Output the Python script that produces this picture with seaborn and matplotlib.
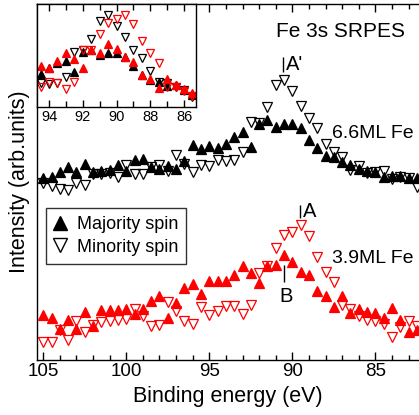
import matplotlib
matplotlib.use('Agg')
import matplotlib.pyplot as plt
import seaborn as sns
from matplotlib.lines import Line2D
from matplotlib.ticker import MultipleLocator

sns.set_theme(style='ticks')
plt.rcParams['font.family'] = ['Liberation Sans', 'DejaVu Sans']
plt.rcParams['text.color'] = 'black'
plt.rcParams['axes.labelcolor'] = 'black'
plt.rcParams['xtick.color'] = 'black'
plt.rcParams['ytick.color'] = 'black'

# ---------------- main panel data (binding energy, eV) ----------------
energy = [105.0, 104.5, 104.0, 103.5, 103.0, 102.5, 102.0, 101.5, 101.0, 100.5,
          100.0, 99.5, 99.0, 98.5, 98.0, 97.5, 97.0, 96.5, 96.0, 95.5,
          95.0, 94.5, 94.0, 93.5, 93.0, 92.5, 92.0, 91.5, 91.0, 90.5,
          90.0, 89.5, 89.0, 88.5, 88.0, 87.5, 87.0, 86.5, 86.0, 85.5,
          85.0, 84.5, 84.0, 83.5, 83.0, 82.5]

maj_66 = [221.7, 222.7, 228.3, 233.0, 227.7, 235.5, 227.5, 228.5, 230.0, 235.0,
          229.0, 239.5, 240.5, 233.3, 231.0, 234.0, 230.7, 239.0, 254.5, 251.0,
          254.0, 252.0, 256.0, 263.0, 267.5, 253.3, 276.0, 280.0, 273.0, 276.0,
          276.0, 272.0, 260.0, 252.0, 244.0, 243.0, 238.0, 235.0, 231.0, 229.0,
          228.0, 223.0, 224.0, 224.0, 222.0, 222.0]
min_66 = [217.0, 214.0, 211.0, 210.0, 217.0, 215.0, 226.0, 225.5, 226.5, 223.3,
          235.0, 226.0, 225.5, 232.5, 235.0, 229.0, 245.0, 236.0, 227.5, 235.0,
          233.5, 240.0, 239.3, 239.5, 248.3, 278.3, 276.5, 293.3, 315.0, 320.0,
          309.3, 294.0, 281.7, 272.3, 256.0, 248.3, 243.3, 230.0, 234.0, 226.7,
          228.3, 229.3, 220.7, 223.3, 221.7, 213.3]
maj_39 = [85.0, 82.0, 70.8, 80.3, 71.2, 88.3, 74.5, 90.3, 90.5, 90.5,
          91.2, 85.8, 91.2, 98.8, 104.5, 82.2, 97.5, 112.3, 116.3, 106.0,
          119.2, 119.2, 118.7, 125.5, 134.2, 127.0, 117.5, 134.0, 135.0, 144.5,
          138.3, 128.3, 125.5, 108.8, 103.7, 92.7, 103.7, 86.7, 91.2, 88.3,
          87.3, 82.2, 91.7, 79.7, 67.8, 70.0]
min_39 = [58.0, 58.0, 70.0, 60.0, 79.5, 68.3, 75.5, 78.5, 79.3, 80.0,
          80.7, 91.0, 84.0, 74.5, 75.5, 98.3, 89.5, 79.0, 76.0, 93.0,
          85.0, 89.0, 94.5, 93.7, 86.0, 95.5, 126.7, 134.0, 151.7, 165.0,
          168.3, 175.0, 164.0, 143.3, 128.0, 118.5, 95.0, 91.0, 83.7, 80.5,
          79.0, 76.3, 62.7, 73.0, 79.0, 74.5]

# ---------------- inset data ----------------
energy_in = [94.5, 94.0, 93.5, 93.0, 92.5, 92.0, 91.5, 91.0, 90.5, 90.0,
             89.5, 89.0, 88.5, 88.0, 87.5, 87.0, 86.5, 86.0, 85.5]
in_maj_66 = [36.0, 41.7, 47.3, 49.3, 38.3, 57.7, 60.0, 55.0, 57.3, 57.3,
             52.7, 44.0, 35.0, 30.0, 28.3, 24.0, 25.0, 20.0, 15.0]
in_min_66 = [27.3, 26.0, 26.7, 32.7, 58.3, 60.0, 70.7, 89.3, 95.0, 84.0,
             72.7, 60.0, 51.7, 39.3, 28.3, 27.3, 22.7, 20.0, 13.3]
in_maj_39 = [44.0, 41.7, 49.3, 57.3, 50.7, 41.7, 60.0, 57.3, 66.0, 60.7,
             52.7, 48.3, 35.0, 30.7, 21.7, 30.7, 25.0, 20.7, 16.7]
in_min_39 = [22.7, 28.3, 26.7, 20.7, 28.3, 60.0, 60.0, 76.0, 86.7, 90.7,
             95.0, 86.0, 69.3, 56.7, 47.3, 23.3, 22.7, 19.3, 14.0]

RED = '#ff0000'
BLACK = '#000000'

fig = plt.figure(figsize=(4.19, 4.15), dpi=100)
fig.patch.set_facecolor('white')
W, H = 419.0, 415.0

ax = fig.add_axes([37.3 / W, 55 / H, 1 - 37.3 / W, 356 / H])
ax.set_facecolor('white')


def draw(a, x, y, marker, color, filled, ms, mew=0.9):
    sns.lineplot(x=x, y=y, ax=a, estimator=None, sort=False, errorbar=None,
                 linestyle='', marker=marker, markersize=ms, color=color,
                 markerfacecolor=color if filled else 'none',
                 markeredgecolor=color, markeredgewidth=mew)


draw(ax, energy, maj_66, '^', BLACK, True, 6.5)
draw(ax, energy, min_66, 'v', BLACK, False, 6.5)
draw(ax, energy, maj_39, '^', RED, True, 6.5)
draw(ax, energy, min_39, 'v', RED, False, 6.5)

ax.set_xlim(105.36, 82.37)
ax.set_ylim(40, 396)
ax.set_yticks([])
ax.xaxis.set_major_locator(MultipleLocator(5))
ax.xaxis.set_minor_locator(MultipleLocator(1))
ax.tick_params(axis='x', which='both', direction='in', top=True, bottom=True,
               width=1, colors='black', labelsize=13.5, pad=2.5)
ax.tick_params(axis='x', which='major', length=6)
ax.tick_params(axis='x', which='minor', length=3.5)
for s in ['left', 'top', 'bottom']:
    ax.spines[s].set_linewidth(1)
    ax.spines[s].set_color('black')
ax.spines['right'].set_visible(False)
ax.set_xlabel('Binding energy (eV)', fontsize=15.5, labelpad=4, color='black')
ax.set_ylabel('Intensity (arb.units)', fontsize=15.5, labelpad=5, color='black')

# annotations
ax.text(90.99, 363, 'Fe 3s SRPES', fontsize=15, ha='left', va='baseline', color='black')
ax.text(87.61, 262, '6.6ML Fe', fontsize=14, ha='left', va='baseline', color='black')
ax.text(87.61, 137.3, '3.9ML Fe', fontsize=14, ha='left', va='baseline', color='black')
ax.text(90.38, 330, "A'", fontsize=14.5, ha='left', va='baseline', color='black')
ax.vlines(90.54, 328, 343, color='black', lw=1)
ax.text(89.37, 183, 'A', fontsize=14.5, ha='left', va='baseline', color='black')
ax.vlines(89.54, 182, 195, color='black', lw=1)
ax.text(90.78, 98, 'B', fontsize=14.5, ha='left', va='baseline', color='black')
ax.vlines(90.5, 118, 135, color='black', lw=1)

handles = [Line2D([], [], marker='^', linestyle='', color=BLACK, markersize=10),
           Line2D([], [], marker='v', linestyle='', color=BLACK, markersize=10,
                  markerfacecolor='none', markeredgewidth=1)]
leg = ax.legend(handles, ['Majority spin', 'Minority spin'], loc='upper left',
                bbox_to_anchor=(46 / W, 1 - 208 / H), bbox_transform=fig.transFigure,
                fontsize=13, frameon=True, fancybox=False, borderpad=0.45,
                handlelength=0.65, handletextpad=0.6, labelspacing=0.3,
                borderaxespad=0)
leg.get_frame().set_edgecolor('black')
leg.get_frame().set_linewidth(1)
for t in leg.get_texts():
    t.set_color('black')

# inset
axi = fig.add_axes([36.7 / W, 1 - 107.3 / H, 159.3 / W, 103.3 / H])
axi.set_facecolor('white')
axi.set_zorder(5)
draw(axi, energy_in, in_maj_66, '^', BLACK, True, 5.5)
draw(axi, energy_in, in_min_66, 'v', BLACK, False, 5.5)
draw(axi, energy_in, in_maj_39, '^', RED, True, 5.5)
draw(axi, energy_in, in_min_39, 'v', RED, False, 5.5)
axi.set_xlim(94.73, 85.29)
axi.set_ylim(2.7, 106)
axi.set_yticks([])
axi.set_xlabel('')
axi.set_ylabel('')
axi.xaxis.set_major_locator(MultipleLocator(2))
axi.xaxis.set_minor_locator(MultipleLocator(1))
axi.tick_params(axis='x', which='both', direction='in', top=True, bottom=True,
                width=1, colors='black', labelsize=10.5, pad=2)
axi.tick_params(axis='x', which='major', length=5)
axi.tick_params(axis='x', which='minor', length=4)
for s in axi.spines.values():
    s.set_linewidth(1)
    s.set_color('black')

fig.savefig('out.png', dpi=100, facecolor='white')
